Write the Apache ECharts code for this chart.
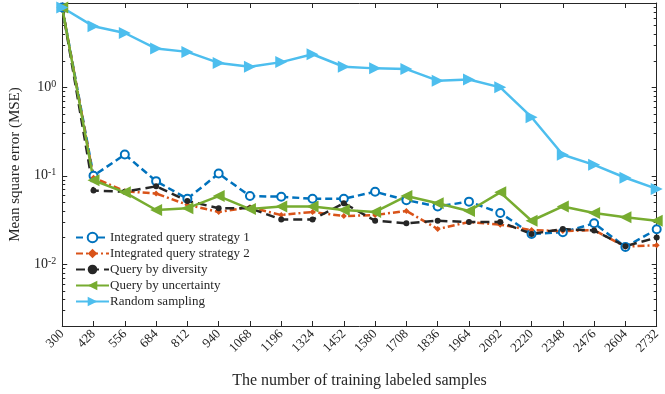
<!DOCTYPE html>
<html>
<head>
<meta charset="utf-8">
<script src="https://cdn.jsdelivr.net/npm/echarts@6/dist/echarts.min.js"></script>
<style>html,body{margin:0;padding:0;background:#fff}#c{width:665px;height:394px}</style>
</head>
<body>
<div id="c"></div>
<script>
const categories = ['300','428','556','684','812','940','1068','1196','1324','1452','1580','1708','1836','1964','2092','2220','2348','2476','2604','2732'];
const iqs1 = [8.0,0.100,0.174,0.087,0.055,0.106,0.059,0.058,0.055,0.055,0.066,0.053,0.045,0.051,0.038,0.022,0.023,0.029,0.0157,0.0248];
const iqs2 = [8.0,0.095,0.067,0.063,0.047,0.039,0.044,0.036,0.039,0.035,0.036,0.040,0.025,0.030,0.028,0.0243,0.0237,0.0243,0.0158,0.0164];
const qbd  = [8.0,0.068,0.066,0.076,0.052,0.043,0.043,0.032,0.032,0.049,0.031,0.029,0.031,0.030,0.030,0.022,0.025,0.024,0.016,0.020];
const qbu  = [8.0,0.089,0.065,0.041,0.043,0.059,0.042,0.045,0.045,0.041,0.039,0.059,0.049,0.040,0.065,0.031,0.045,0.038,0.034,0.031];
const rs   = [8.0,4.9,4.12,2.75,2.52,1.89,1.71,1.93,2.37,1.71,1.64,1.61,1.19,1.23,1.0,0.46,0.173,0.133,0.095,0.071];
const majorTicks = [0.01,0.1,1];
const minorTicks = [0.003,0.004,0.005,0.006,0.007,0.008,0.009,0.02,0.03,0.04,0.05,0.06,0.07,0.08,0.09,0.2,0.3,0.4,0.5,0.6,0.7,0.8,0.9,2,3,4,5,6,7,8];
const yMin = 0.002, yMax = 9;

const FONT = 'Liberation Serif';
const INK = '#262626';
const chart = echarts.init(document.getElementById('c'));

function yAx(pos, ticks, len, labels, line) {
  return {
    type: 'log', logBase: 10, min: yMin, max: yMax, position: pos,
    axisLine: {show: line, onZero: false, lineStyle: {color: INK, width: 1}},
    axisTick: {show: true, inside: true, length: len, customValues: ticks, lineStyle: {color: INK, width: 1}},
    axisLabel: labels ? {
      show: true, customValues: majorTicks, margin: 6, color: INK, fontFamily: FONT, fontSize: 14,
      formatter: v => '10{s|' + Math.round(Math.log10(v)) + '}',
      rich: {s: {fontSize: 10, verticalAlign: 'top', padding: [0,0,6,0], fontFamily: FONT, color: INK}}
    } : {show: false},
    splitLine: {show: false},
    name: labels && pos === 'left' ? 'Mean square error (MSE)' : '',
    nameLocation: 'middle', nameGap: 35,
    nameTextStyle: {fontFamily: FONT, fontSize: 15, color: INK}
  };
}

const option = {
  animation: false,
  backgroundColor: '#fff',
  grid: {left: 57.3, right: 8.3, top: 3, bottom: 66.7, containLabel: false},
  legend: {
    orient: 'vertical', left: 70, top: 226, itemWidth: 33, itemHeight: 12, itemGap: 3,
    textStyle: {fontFamily: FONT, fontSize: 13, color: INK, padding: [0,0,0,-4]},
    data: ['Integrated query strategy 1','Integrated query strategy 2','Query by diversity','Query by uncertainty','Random sampling']
  },
  xAxis: [{
    type: 'category', data: categories, boundaryGap: false, position: 'bottom',
    axisLine: {show: true, onZero: false, lineStyle: {color: INK, width: 1}},
    axisTick: {show: true, inside: true, length: 5, lineStyle: {color: INK}},
    axisLabel: {rotate: 45, margin: 6, color: INK, fontFamily: FONT, fontSize: 13, interval: 0},
    name: 'The number of training labeled samples', nameLocation: 'middle', nameGap: 47,
    nameTextStyle: {fontFamily: FONT, fontSize: 16, color: INK}
  }, {
    type: 'category', data: categories, boundaryGap: false, position: 'top',
    axisLine: {show: true, onZero: false, lineStyle: {color: INK, width: 1}},
    axisTick: {show: true, inside: true, length: 5, lineStyle: {color: INK}},
    axisLabel: {show: false}
  }],
  yAxis: [
    yAx('left', majorTicks, 5, true, true),
    yAx('left', minorTicks, 3, false, false),
    yAx('right', majorTicks, 5, false, true),
    yAx('right', minorTicks, 3, false, false)
  ],
  series: [
    {name: 'Integrated query strategy 1', type: 'line', data: iqs1, yAxisIndex: 0,
     symbol: 'circle', symbolSize: 8, showAllSymbol: true,
     lineStyle: {color: '#0072BD', width: 2.5, type: [7,4]},
     itemStyle: {color: '#fff', borderColor: '#0072BD', borderWidth: 2}},
    {name: 'Integrated query strategy 2', type: 'line', data: iqs2, yAxisIndex: 0,
     symbol: 'diamond', symbolSize: 6,
     lineStyle: {color: '#D95319', width: 2.5, type: [7,3,2,3]},
     itemStyle: {color: '#D95319'}},
    {name: 'Query by diversity', type: 'line', data: qbd, yAxisIndex: 0,
     symbol: 'circle', symbolSize: 6,
     lineStyle: {color: INK, width: 2.5, type: [9,5]},
     itemStyle: {color: INK}},
    {name: 'Query by uncertainty', type: 'line', data: qbu, yAxisIndex: 0,
     symbol: 'triangle', symbolSize: 12, symbolRotate: 90,
     lineStyle: {color: '#77AC30', width: 2.5},
     itemStyle: {color: '#77AC30'}},
    {name: 'Random sampling', type: 'line', data: rs, yAxisIndex: 0,
     symbol: 'triangle', symbolSize: 12, symbolRotate: -90,
     lineStyle: {color: '#4DBEEE', width: 2.5},
     itemStyle: {color: '#4DBEEE'}}
  ]
};
chart.setOption(option);
</script>
</body>
</html>
